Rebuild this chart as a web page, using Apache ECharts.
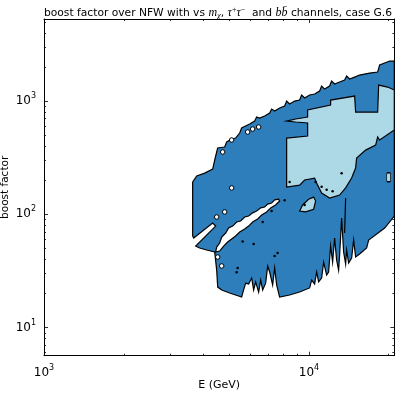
<!DOCTYPE html>
<html><head><meta charset="utf-8">
<script src="https://cdn.jsdelivr.net/npm/echarts@6/dist/echarts.min.js"></script>
<style>html,body{margin:0;padding:0;background:#fff}#c{width:399px;height:395px}</style>
</head><body><div id="c"></div>
<script>
// axis ranges (GeV, boost factor)
const xRange = [1000, 21000];
const yRange = [5.65, 5300];
const xMajorTicks = [1000, 10000];
const xMinorTicks = [2000, 3000, 4000, 5000, 6000, 7000, 8000, 9000, 20000];
const yMajorTicks = [10, 100, 1000];
const yMinorTicks = [6, 7, 8, 9, 20, 30, 40, 50, 60, 70, 80, 90, 200, 300, 400, 500, 600, 700, 800, 900, 2000, 3000, 4000, 5000];

// contour level 1 (dark blue) outer boundary, [E, boost]
const regionDark = [
  [3640,193],[3770,218],[4042,231],[4332,251],[4408,301],[4485,355],[4525,385],[4808,393],[4892,435],
  [5109,462],[5289,471],[5477,522],[5572,578],[5975,627],[6240,666],[6348,722],[6517,708],[6806,737],
  [7108,784],[7231,850],[7423,816],[7752,868],[8096,903],[8238,1000],[8455,941],[8830,1000],[9224,1020],
  [9386,1130],[9634,1063],[10061,1130],[10507,1153],[10975,1225],[11166,1356],[11460,1276],[11969,1356],
  [12180,1501],[12500,1413],[13057,1471],[13637,1532],[13877,1662],[14244,1564],[14875,1628],[15532,1696],
  [16228,1731],[16948,1766],[18171,1803],[18490,2078],[19312,2165],[20170,2254],[21000,2254],
  [21000,96.6],[19312,75.7],[16800,59.3],[16511,50.4],[15532,44.6],[15005,42.0],[14747,59.3],[14493,41.1],
  [14121,37.2],[13877,48.4],[13757,36.4],[13519,46.5],[13285,92.8],[13057,43.7],[12943,32.2],[12720,39.5],
  [12500,61.8],[12286,37.9],[12074,52.5],[11867,31.0],[11664,29.1],[11362,37.9],[11166,27.4],[10880,25.3],
  [10693,31.0],[10507,24.3],[10238,26.3],[10061,22.4],[9224,20.6],[8455,19.4],[7752,18.6],[7553,23.8],
  [7423,33.6],[7295,23.8],[7108,31.0],[6986,35.0],[6865,24.7],[6689,21.5],[6574,26.3],[6460,20.6],
  [6293,25.3],[6185,21.5],[6079,27.4],[5922,24.3],[5769,24.7],[5669,21.5],[5572,18.6],[5021,20.2],
  [4685,21.5],[4525,22.8],[4485,32.2],[4408,46.5],[4111,48.4],[3869,50.4],[3736,52.5],[4446,78.8],
  [4332,83.8],[3672,61.8],[3640,64.4]
];
// long white gap inside the dark region
const holeBand = [
  [7685,136],[7423,134],[7231,126],[6986,123],[6806,116],[6574,114],[6348,107],[6131,103],[5922,96.6],
  [5720,94.7],[5524,87.3],[5336,85.5],[5154,78.8],[4977,75.7],[4850,68.4],[4685,63.0],[4603,55.8],
  [4485,51.4],[4446,46.5],[4603,47.4],[4766,52.5],[4934,56.9],[5109,60.5],[5289,64.4],[5477,69.8],
  [5720,74.2],[5922,78.8],[6131,85.5],[6404,90.9],[6631,98.6],[6925,105],[7170,114],[7486,121],[7752,131]
];
// contour level 2 (light blue)
const regionLight = [
  [8238,471],[9887,491],[9887,640],[8907,653],[8238,666],[8907,694],[9887,722],[9887,833],[12074,922],
  [12074,1020],[14875,1107],[15005,800],[18171,800],[18330,1384],[19822,1329],[21000,1251],[21000,555],
  [18490,453],[18171,481],[17859,409],[16369,369],[15136,314],[15005,256],[14493,209],[13757,171],
  [13057,148],[11969,139],[11166,154],[10785,181],[10507,209],[9634,201],[9224,181],[8238,174]
];
const patchLight = [
  [9224,107],[9468,121],[9974,136],[10416,142],[10600,131],[10416,111],[9716,105]
];
// small white islands and tiny contour loops
const holeSpots = [
  [5109,171],[4808,105],[4485,94.7],[5109,453],[5871,533],[6131,566],[6460,590],[4725,355],[4525,42.0],[4685,35.0]
];
const tinyLoops = [
  [5621,57.5],[6185,54.7],[5382,33.6],[5336,30.8],[7423,42.8],[7618,45.5],[6689,85.5],[7231,107],
  [8096,133],[8455,193],[10600,193],[11166,175],[11664,165],[12286,160],[9634,121],[13285,230]
];
const thinSpike = [[13757,139],[13637,68.4]];
const edgeBlob = [[20000,213]];

const DARK = '#2e7ebb', LIGHT = '#add8e6';

function poly(points, fill, z) {
  return {
    type: 'custom', coordinateSystem: 'cartesian2d', xAxisIndex: 0, yAxisIndex: 0, z: z, silent: true,
    data: points, encode: { x: 0, y: 1 },
    renderItem: function (params, api) {
      if (params.dataIndex !== 0) return null;
      const pts = points.map(p => api.coord(p));
      return { type: 'polygon', shape: { points: pts }, style: { fill: fill, stroke: '#000', lineWidth: 1.2 } };
    }
  };
}

const FONT = 'DejaVu Sans';
const supLabel = v => '{b|10}{s|' + Math.round(Math.log10(v)) + '}';
const labelRich = { b: { fontSize: 12, lineHeight: 18, fontFamily: FONT, color: '#000' }, s: { fontSize: 8, lineHeight: 8, verticalAlign: 'top', fontFamily: FONT, color: '#000' } };

function xAxisDef(pos, major, withLabel) {
  return {
    type: 'log', logBase: 10, min: xRange[0], max: xRange[1], position: pos,
    axisLine: { show: major, onZero: false, lineStyle: { color: '#000', width: 1 } },
    splitLine: { show: false }, minorTick: { show: false },
    axisTick: { show: true, inside: true, length: major ? 4 : 2, lineStyle: { color: '#000', width: 0.8 },
      customValues: major ? xMajorTicks : xMinorTicks },
    axisLabel: withLabel ? { show: true, customValues: xMajorTicks, formatter: supLabel, rich: labelRich, margin: 8 } : { show: false },
    name: withLabel ? 'E (GeV)' : '', nameLocation: 'middle', nameGap: 24, nameMoveOverlap: false,
    nameTextStyle: { fontFamily: FONT, fontSize: 11, color: '#000' }
  };
}
function yAxisDef(pos, major, withLabel) {
  return {
    type: 'log', logBase: 10, min: yRange[0], max: yRange[1], position: pos,
    axisLine: { show: major, onZero: false, lineStyle: { color: '#000', width: 1 } },
    splitLine: { show: false }, minorTick: { show: false },
    axisTick: { show: true, inside: true, length: major ? 4 : 2, lineStyle: { color: '#000', width: 0.8 },
      customValues: major ? yMajorTicks : yMinorTicks },
    axisLabel: withLabel ? { show: true, customValues: yMajorTicks, formatter: supLabel, rich: labelRich, margin: 8 } : { show: false },
    name: withLabel ? 'boost factor' : '', nameLocation: 'middle', nameGap: 33, nameRotate: 90, nameMoveOverlap: false,
    nameTextStyle: { fontFamily: FONT, fontSize: 10.5, color: '#000' }
  };
}

const chart = echarts.init(document.getElementById('c'), null, { renderer: 'canvas' });
chart.setOption({
  animation: false,
  backgroundColor: '#fff',
  title: {
    text: 'boost factor over NFW with vs {m|m}{sub|χ}{n|, }{m|τ}{sup|+}{m|τ}{sup|−}{n|  and }{m|b}{m|b̄}{n| channels, case G.6}',
    left: 213, top: 1, textAlign: 'center',
    textStyle: {
      fontFamily: FONT, fontSize: 10.7, fontWeight: 'normal', color: '#000', lineHeight: 14,
      rich: {
        n: { fontFamily: FONT, fontSize: 10.7, lineHeight: 14, color: '#000' },
        m: { fontFamily: 'Liberation Serif', fontStyle: 'italic', fontSize: 12, lineHeight: 14, color: '#000' },
        sub: { fontFamily: 'Liberation Serif', fontStyle: 'italic', fontSize: 8.5, lineHeight: 8, verticalAlign: 'bottom', color: '#000' },
        sup: { fontFamily: 'Liberation Serif', fontSize: 8, lineHeight: 8, verticalAlign: 'top', color: '#000' }
      }
    }
  },
  grid: { left: 44, right: 4.7, top: 19, bottom: 39.3, containLabel: false, outerBoundsMode: 'none' },
  xAxis: [xAxisDef('bottom', true, true), xAxisDef('top', true, false), xAxisDef('bottom', false, false), xAxisDef('top', false, false)],
  yAxis: [yAxisDef('left', true, true), yAxisDef('right', true, false), yAxisDef('left', false, false), yAxisDef('right', false, false)],
  series: [
    poly(regionDark, DARK, 1),
    poly(holeBand, '#fff', 2),
    poly(regionLight, LIGHT, 3),
    poly(patchLight, LIGHT, 3),
    { type: 'scatter', data: holeSpots, symbol: 'circle', symbolSize: 4.5, z: 4, silent: true,
      itemStyle: { color: '#fff', borderColor: '#000', borderWidth: 1, opacity: 1 } },
    { type: 'scatter', data: tinyLoops, symbol: 'circle', symbolSize: 2.5, z: 4, silent: true,
      itemStyle: { color: '#000', opacity: 1 } },
    { type: 'scatter', data: edgeBlob, symbol: 'roundRect', symbolSize: [4, 9], z: 4, silent: true,
      itemStyle: { color: LIGHT, borderColor: '#000', borderWidth: 1, opacity: 1 } },
    { type: 'line', data: thinSpike, symbol: 'none', z: 4, silent: true, lineStyle: { color: '#000', width: 1.2 } }
  ]
});
</script></body></html>
